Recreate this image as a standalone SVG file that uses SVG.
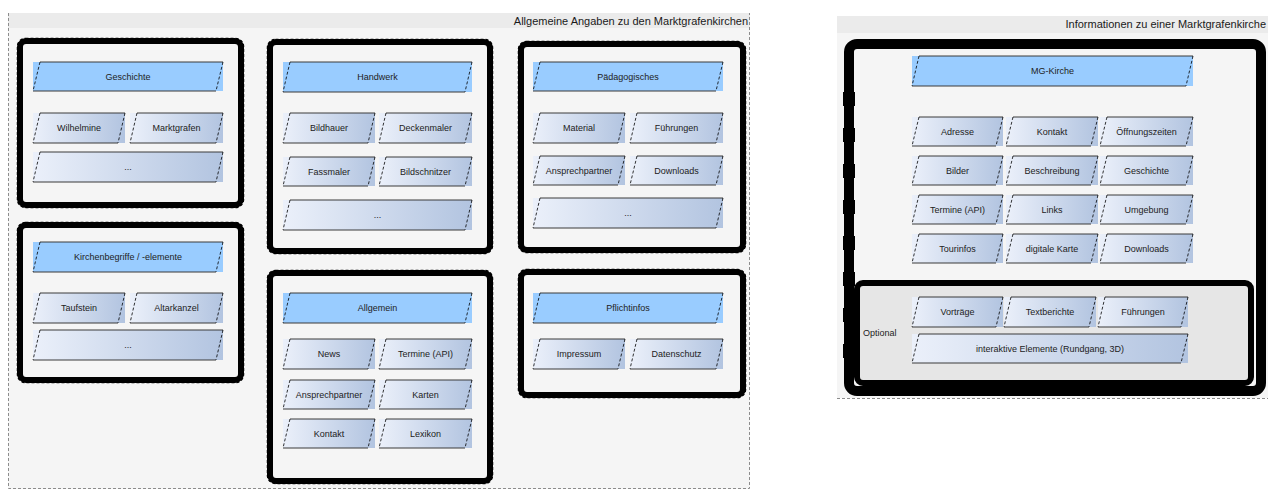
<svg xmlns="http://www.w3.org/2000/svg" width="1277" height="496" viewBox="0 0 1277 496">
  <defs>
    <linearGradient id="itemFill" x1="0" y1="0" x2="1" y2="0">
      <stop offset="0" stop-color="#ebf0fa"/>
      <stop offset="1" stop-color="#b2c4e0"/>
    </linearGradient>
    <style>
      text { font-family: "Liberation Sans", Arial, sans-serif; font-size: 9px; fill: #222; text-anchor: middle; }
      .title { font-size: 11px; text-anchor: end; fill: #1a1a1a; }
      .lbl { text-anchor: start; }
      .band { fill: #ebebeb; }
      .body { fill: #f5f5f5; }
      .border { fill: none; stroke: #8c8c8c; stroke-width: 1; stroke-dasharray: 3 2; }
      .frame { fill: #f5f5f5; stroke: #000; stroke-width: 6; }
      .frame-edge { fill: none; stroke: #000; stroke-width: 1.5; stroke-dasharray: 3 2; }
      .opt { fill: #e6e6e6; stroke: #000; stroke-width: 6; }
      .head { fill: #99ccff; }
      .item { fill: url(#itemFill); }
      .edge { fill: none; stroke: #3a3a3a; stroke-width: 1; }
      .side { fill: none; stroke: #000; stroke-width: 0.8; stroke-dasharray: 3 2; }
    </style>
  </defs>

  <rect width="1277" height="496" fill="#ffffff"/>

  <!-- General information panel -->
  <g id="panel-general">
    <rect class="body" x="8" y="13" width="742" height="476"/>
    <rect class="band" x="8" y="13" width="742" height="15"/>
    <path class="border" d="M8.5,13 V488.5 H749.5 V13"/>
    <text class="title" x="748" y="25">Allgemeine Angaben zu den Marktgrafenkirchen</text>
  </g>

  <!-- Church information panel -->
  <g id="panel-church">
    <rect class="body" x="837" y="16" width="431" height="382"/>
    <rect class="band" x="837" y="16" width="431" height="17"/>
    <path class="border" d="M837,398.5 H1268"/>
    <text class="title" x="1266" y="28">Informationen zu einer Marktgrafenkirche</text>
  </g>

  <!-- Geschichte -->
  <g id="grp-geschichte">
    <rect class="frame" x="20" y="41" width="221" height="164" rx="6"/>
    <rect class="frame-edge" x="17.5" y="38.5" width="226" height="169" rx="8"/>
    <rect class="head" x="33" y="62" width="190" height="29"/>
    <path class="edge" d="M40,62H223M33,91H216"/><path class="side" d="M40,62L33,91M223,62L216,91"/>
    <text x="128" y="80">Geschichte</text>
    <rect class="item" x="33" y="113" width="92" height="30"/>
    <path class="edge" d="M40,113H125M33,143H118"/><path class="side" d="M40,113L33,143M125,113L118,143"/>
    <text x="79" y="131">Wilhelmine</text>
    <rect class="item" x="130" y="113" width="93" height="30"/>
    <path class="edge" d="M137,113H223M130,143H216"/><path class="side" d="M137,113L130,143M223,113L216,143"/>
    <text x="176.5" y="131">Marktgrafen</text>
    <rect class="item" x="33" y="152" width="190" height="30"/>
    <path class="edge" d="M40,152H223M33,182H216"/><path class="side" d="M40,152L33,182M223,152L216,182"/>
    <text x="128" y="170">...</text>
  </g>

  <!-- Kirchenbegriffe -->
  <g id="grp-kirchenbegriffe">
    <rect class="frame" x="20" y="225" width="221" height="155" rx="6"/>
    <rect class="frame-edge" x="17.5" y="222.5" width="226" height="160" rx="8"/>
    <rect class="head" x="33" y="242" width="190" height="30"/>
    <path class="edge" d="M40,242H223M33,272H216"/><path class="side" d="M40,242L33,272M223,242L216,272"/>
    <text x="128" y="260">Kirchenbegriffe / -elemente</text>
    <rect class="item" x="33" y="293" width="92" height="30"/>
    <path class="edge" d="M40,293H125M33,323H118"/><path class="side" d="M40,293L33,323M125,293L118,323"/>
    <text x="79" y="311">Taufstein</text>
    <rect class="item" x="130" y="293" width="93" height="30"/>
    <path class="edge" d="M137,293H223M130,323H216"/><path class="side" d="M137,293L130,323M223,293L216,323"/>
    <text x="176.5" y="311">Altarkanzel</text>
    <rect class="item" x="33" y="330" width="190" height="30"/>
    <path class="edge" d="M40,330H223M33,360H216"/><path class="side" d="M40,330L33,360M223,330L216,360"/>
    <text x="128" y="348">...</text>
  </g>

  <!-- Handwerk -->
  <g id="grp-handwerk">
    <rect class="frame" x="270" y="42" width="220" height="209" rx="6"/>
    <rect class="frame-edge" x="267.5" y="39.5" width="225" height="214" rx="8"/>
    <rect class="head" x="283" y="62" width="189" height="30"/>
    <path class="edge" d="M290,62H472M283,92H465"/><path class="side" d="M290,62L283,92M472,62L465,92"/>
    <text x="377.5" y="80">Handwerk</text>
    <rect class="item" x="283" y="113" width="92" height="30"/>
    <path class="edge" d="M290,113H375M283,143H368"/><path class="side" d="M290,113L283,143M375,113L368,143"/>
    <text x="329" y="131">Bildhauer</text>
    <rect class="item" x="379" y="113" width="93" height="30"/>
    <path class="edge" d="M386,113H472M379,143H465"/><path class="side" d="M386,113L379,143M472,113L465,143"/>
    <text x="425.5" y="131">Deckenmaler</text>
    <rect class="item" x="283" y="157" width="92" height="29"/>
    <path class="edge" d="M290,157H375M283,186H368"/><path class="side" d="M290,157L283,186M375,157L368,186"/>
    <text x="329" y="174.5">Fassmaler</text>
    <rect class="item" x="379" y="157" width="93" height="29"/>
    <path class="edge" d="M386,157H472M379,186H465"/><path class="side" d="M386,157L379,186M472,157L465,186"/>
    <text x="425.5" y="174.5">Bildschnitzer</text>
    <rect class="item" x="283" y="200" width="189" height="30"/>
    <path class="edge" d="M290,200H472M283,230H465"/><path class="side" d="M290,200L283,230M472,200L465,230"/>
    <text x="377.5" y="218">...</text>
  </g>

  <!-- Allgemein -->
  <g id="grp-allgemein">
    <rect class="frame" x="270" y="273" width="220" height="208" rx="6"/>
    <rect class="frame-edge" x="267.5" y="270.5" width="225" height="213" rx="8"/>
    <rect class="head" x="283" y="293" width="189" height="30"/>
    <path class="edge" d="M290,293H472M283,323H465"/><path class="side" d="M290,293L283,323M472,293L465,323"/>
    <text x="377.5" y="311">Allgemein</text>
    <rect class="item" x="283" y="339" width="92" height="30"/>
    <path class="edge" d="M290,339H375M283,369H368"/><path class="side" d="M290,339L283,369M375,339L368,369"/>
    <text x="329" y="357">News</text>
    <rect class="item" x="379" y="339" width="93" height="30"/>
    <path class="edge" d="M386,339H472M379,369H465"/><path class="side" d="M386,339L379,369M472,339L465,369"/>
    <text x="425.5" y="357">Termine (API)</text>
    <rect class="item" x="283" y="380" width="92" height="29"/>
    <path class="edge" d="M290,380H375M283,409H368"/><path class="side" d="M290,380L283,409M375,380L368,409"/>
    <text x="329" y="397.5">Ansprechpartner</text>
    <rect class="item" x="379" y="380" width="93" height="29"/>
    <path class="edge" d="M386,380H472M379,409H465"/><path class="side" d="M386,380L379,409M472,380L465,409"/>
    <text x="425.5" y="397.5">Karten</text>
    <rect class="item" x="283" y="419" width="92" height="29"/>
    <path class="edge" d="M290,419H375M283,448H368"/><path class="side" d="M290,419L283,448M375,419L368,448"/>
    <text x="329" y="436.5">Kontakt</text>
    <rect class="item" x="379" y="419" width="93" height="29"/>
    <path class="edge" d="M386,419H472M379,448H465"/><path class="side" d="M386,419L379,448M472,419L465,448"/>
    <text x="425.5" y="436.5">Lexikon</text>
  </g>

  <!-- Pädagogisches -->
  <g id="grp-paedagogisches">
    <rect class="frame" x="521" y="44" width="222" height="206" rx="6"/>
    <rect class="frame-edge" x="518.5" y="41.5" width="227" height="211" rx="8"/>
    <rect class="head" x="533" y="62" width="190" height="29"/>
    <path class="edge" d="M540,62H723M533,91H716"/><path class="side" d="M540,62L533,91M723,62L716,91"/>
    <text x="628" y="80">Pädagogisches</text>
    <rect class="item" x="533" y="113" width="92" height="30"/>
    <path class="edge" d="M540,113H625M533,143H618"/><path class="side" d="M540,113L533,143M625,113L618,143"/>
    <text x="579" y="131">Material</text>
    <rect class="item" x="630" y="113" width="93" height="30"/>
    <path class="edge" d="M637,113H723M630,143H716"/><path class="side" d="M637,113L630,143M723,113L716,143"/>
    <text x="676.5" y="131">Führungen</text>
    <rect class="item" x="533" y="156" width="92" height="29"/>
    <path class="edge" d="M540,156H625M533,185H618"/><path class="side" d="M540,156L533,185M625,156L618,185"/>
    <text x="579" y="173.5">Ansprechpartner</text>
    <rect class="item" x="630" y="156" width="93" height="29"/>
    <path class="edge" d="M637,156H723M630,185H716"/><path class="side" d="M637,156L630,185M723,156L716,185"/>
    <text x="676.5" y="173.5">Downloads</text>
    <rect class="item" x="533" y="198" width="190" height="30"/>
    <path class="edge" d="M540,198H723M533,228H716"/><path class="side" d="M540,198L533,228M723,198L716,228"/>
    <text x="628" y="216">...</text>
  </g>

  <!-- Pflichtinfos -->
  <g id="grp-pflichtinfos">
    <rect class="frame" x="521" y="272" width="222" height="123" rx="6"/>
    <rect class="frame-edge" x="518.5" y="269.5" width="227" height="128" rx="8"/>
    <rect class="head" x="533" y="293" width="190" height="30"/>
    <path class="edge" d="M540,293H723M533,323H716"/><path class="side" d="M540,293L533,323M723,293L716,323"/>
    <text x="628" y="311">Pflichtinfos</text>
    <rect class="item" x="533" y="339" width="92" height="30"/>
    <path class="edge" d="M540,339H625M533,369H618"/><path class="side" d="M540,339L533,369M625,339L618,369"/>
    <text x="579" y="357">Impressum</text>
    <rect class="item" x="630" y="339" width="93" height="30"/>
    <path class="edge" d="M637,339H723M630,369H716"/><path class="side" d="M637,339L630,369M723,339L716,369"/>
    <text x="676.5" y="357">Datenschutz</text>
  </g>

  <!-- MG-Kirche -->
  <g id="grp-mg-kirche">
    <rect class="frame" x="849" y="44" width="412" height="347" rx="8" style="stroke-width:10"/>
    <path d="M849,92V372" fill="none" stroke="#000" stroke-width="12" stroke-dasharray="14 22"/>
    <rect class="head" x="912" y="56" width="281" height="30"/>
    <path class="edge" d="M919,56H1193M912,86H1186"/><path class="side" d="M919,56L912,86M1193,56L1186,86"/>
    <text x="1052.5" y="74">MG-Kirche</text>

    <rect class="item" x="912" y="117" width="91" height="29"/>
    <path class="edge" d="M919,117H1003M912,146H996"/><path class="side" d="M919,117L912,146M1003,117L996,146"/>
    <text x="957.5" y="134.5">Adresse</text>
    <rect class="item" x="1006" y="117" width="92" height="29"/>
    <path class="edge" d="M1013,117H1098M1006,146H1091"/><path class="side" d="M1013,117L1006,146M1098,117L1091,146"/>
    <text x="1052" y="134.5">Kontakt</text>
    <rect class="item" x="1100" y="117" width="93" height="29"/>
    <path class="edge" d="M1107,117H1193M1100,146H1186"/><path class="side" d="M1107,117L1100,146M1193,117L1186,146"/>
    <text x="1146.5" y="134.5">Öffnungszeiten</text>

    <rect class="item" x="912" y="156" width="91" height="29"/>
    <path class="edge" d="M919,156H1003M912,185H996"/><path class="side" d="M919,156L912,185M1003,156L996,185"/>
    <text x="957.5" y="173.5">Bilder</text>
    <rect class="item" x="1006" y="156" width="92" height="29"/>
    <path class="edge" d="M1013,156H1098M1006,185H1091"/><path class="side" d="M1013,156L1006,185M1098,156L1091,185"/>
    <text x="1052" y="173.5">Beschreibung</text>
    <rect class="item" x="1100" y="156" width="93" height="29"/>
    <path class="edge" d="M1107,156H1193M1100,185H1186"/><path class="side" d="M1107,156L1100,185M1193,156L1186,185"/>
    <text x="1146.5" y="173.5">Geschichte</text>

    <rect class="item" x="912" y="195" width="91" height="29"/>
    <path class="edge" d="M919,195H1003M912,224H996"/><path class="side" d="M919,195L912,224M1003,195L996,224"/>
    <text x="957.5" y="212.5">Termine (API)</text>
    <rect class="item" x="1006" y="195" width="92" height="29"/>
    <path class="edge" d="M1013,195H1098M1006,224H1091"/><path class="side" d="M1013,195L1006,224M1098,195L1091,224"/>
    <text x="1052" y="212.5">Links</text>
    <rect class="item" x="1100" y="195" width="93" height="29"/>
    <path class="edge" d="M1107,195H1193M1100,224H1186"/><path class="side" d="M1107,195L1100,224M1193,195L1186,224"/>
    <text x="1146.5" y="212.5">Umgebung</text>

    <rect class="item" x="912" y="234" width="91" height="29"/>
    <path class="edge" d="M919,234H1003M912,263H996"/><path class="side" d="M919,234L912,263M1003,234L996,263"/>
    <text x="957.5" y="251.5">Tourinfos</text>
    <rect class="item" x="1006" y="234" width="92" height="29"/>
    <path class="edge" d="M1013,234H1098M1006,263H1091"/><path class="side" d="M1013,234L1006,263M1098,234L1091,263"/>
    <text x="1052" y="251.5">digitale Karte</text>
    <rect class="item" x="1100" y="234" width="93" height="29"/>
    <path class="edge" d="M1107,234H1193M1100,263H1186"/><path class="side" d="M1107,234L1100,263M1193,234L1186,263"/>
    <text x="1146.5" y="251.5">Downloads</text>
  </g>

  <!-- Optional content -->
  <g id="grp-optional">
    <rect class="opt" x="857" y="283" width="394" height="100" rx="6"/>
    <text class="lbl" x="863" y="336">Optional</text>
    <rect class="item" x="912" y="297" width="91" height="30"/>
    <path class="edge" d="M919,297H1003M912,327H996"/><path class="side" d="M919,297L912,327M1003,297L996,327"/>
    <text x="957.5" y="315">Vorträge</text>
    <rect class="item" x="1004" y="297" width="92" height="30"/>
    <path class="edge" d="M1011,297H1096M1004,327H1089"/><path class="side" d="M1011,297L1004,327M1096,297L1089,327"/>
    <text x="1050" y="315">Textberichte</text>
    <rect class="item" x="1098" y="297" width="90" height="30"/>
    <path class="edge" d="M1105,297H1188M1098,327H1181"/><path class="side" d="M1105,297L1098,327M1188,297L1181,327"/>
    <text x="1143" y="315">Führungen</text>
    <rect class="item" x="912" y="334" width="276" height="29"/>
    <path class="edge" d="M919,334H1188M912,363H1181"/><path class="side" d="M919,334L912,363M1188,334L1181,363"/>
    <text x="1050" y="351.5">interaktive Elemente (Rundgang, 3D)</text>
  </g>
</svg>
